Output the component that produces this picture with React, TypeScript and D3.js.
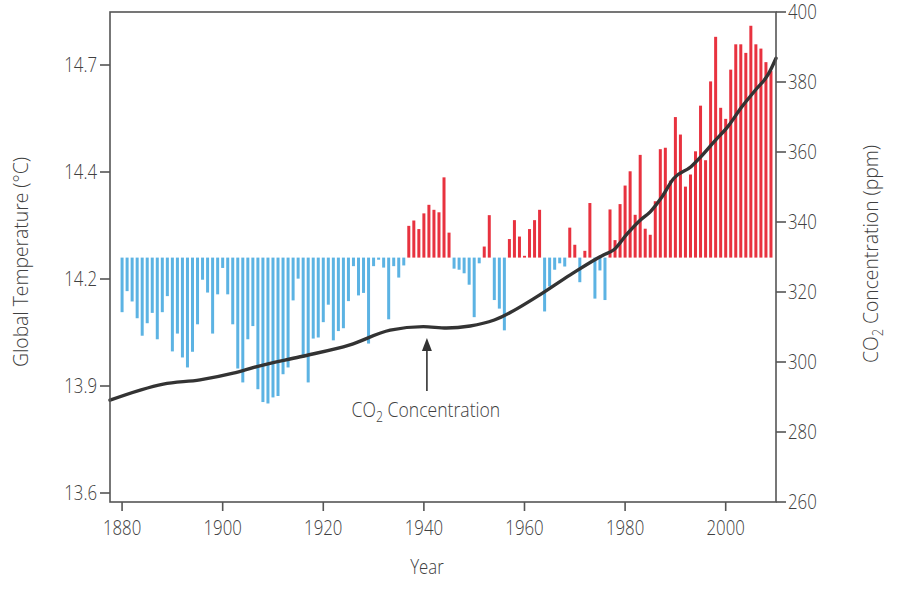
import React from 'react';
import * as d3 from 'd3';

const startYear = 1880;
const tempAnomaly = [
  -0.153, -0.094, -0.123, -0.170, -0.219, -0.184, -0.155, -0.229, -0.153, -0.108,
  -0.263, -0.213, -0.280, -0.308, -0.264, -0.187, -0.062, -0.098, -0.213, -0.103,
  -0.029, -0.103, -0.187, -0.311, -0.350, -0.229, -0.192, -0.369, -0.405, -0.409,
  -0.392, -0.388, -0.327, -0.308, -0.120, -0.059, -0.280, -0.350, -0.227, -0.224,
  -0.181, -0.132, -0.232, -0.206, -0.198, -0.122, -0.024, -0.106, -0.099, -0.241,
  -0.024, -0.006, -0.028, -0.173, -0.024, -0.056, -0.022, 0.089, 0.104, 0.080,
  0.124, 0.148, 0.134, 0.127, 0.225, 0.070, -0.031, -0.034, -0.044, -0.076,
  -0.167, -0.016, 0.031, 0.119, -0.119, -0.143, -0.204, 0.052, 0.105, 0.059,
  0.005, 0.080, 0.105, 0.134, -0.151, -0.081, -0.034, -0.016, -0.025, 0.084,
  0.036, -0.069, 0.019, 0.153, -0.115, -0.036, -0.119, 0.135, 0.049, 0.150,
  0.202, 0.242, 0.120, 0.288, 0.081, 0.064, 0.158, 0.304, 0.308, 0.216,
  0.394, 0.345, 0.199, 0.233, 0.298, 0.426, 0.273, 0.494, 0.619, 0.420,
  0.389, 0.527, 0.598, 0.598, 0.574, 0.650, 0.598, 0.586, 0.548, 0.523,
];
const years = tempAnomaly.map((_, i) => startYear + i);

const co2Years = [
  1877.6, 1888.2, 1895.5, 1902.1, 1906.8, 1915.4, 1925.3, 1933.3, 1939.9, 1944.5,
  1949.2, 1954.0, 1962.4, 1969.1, 1975.7, 1977.7, 1980.4, 1983.0, 1985.0,
  1987.1, 1989.7, 1993.1, 1995.1, 1997.8, 2000.5, 2003.1, 2005.8, 2008.5, 2010.0,
];
const co2Values = [
  289.1, 293.7, 294.9, 296.8, 298.7, 301.5, 304.9, 309.1, 310.1, 309.7,
  310.3, 312.0, 318.6, 324.9, 330.6, 332.0, 336.6, 340.5, 342.9,
  346.7, 352.5, 355.8, 358.7, 363.1, 367.4, 372.7, 377.5, 382.3, 386.8,
];

const tempTickLabels = ['13.6', '13.9', '14.2', '14.4', '14.7'];
const co2Ticks = [260, 280, 300, 320, 340, 360, 380, 400];
const yearTicks = [1880, 1900, 1920, 1940, 1960, 1980, 2000];
const tempBaseline = 14.26;

const W = 900;
const H = 589;
const L = 110;
const R = 776;
const T = 12;
const B = 502;

const FONT = "'Open Sans', sans-serif";
const TEXT = '#404040';
const AXIS = '#555';
const RED = '#e8323f';
const BLUE = '#5cb3e3';
const SX = 0.8;

function NText(props: {
  x: number;
  y: number;
  anchor?: string;
  size?: number;
  sx?: number;
  rotate?: number;
  children: React.ReactNode;
}) {
  const { x, y, anchor = 'middle', size = 20, sx = SX, rotate = 0, children } = props;
  return (
    <text
      transform={`translate(${x},${y}) rotate(${rotate}) scale(${sx},1)`}
      textAnchor={anchor}
      fontSize={size}
      fontWeight={300}
      fill={TEXT}
    >
      {children}
    </text>
  );
}

export default function App() {
  const x = d3.scaleLinear().domain([1877.6, 2010]).range([L, R]);
  const yTemp = d3.scaleLinear().domain([13.6, 14.8]).range([493, 65]);
  const yTempAxis = d3.scalePoint<string>().domain(tempTickLabels).range([493, 65]);
  const yCo2 = d3.scaleLinear().domain([260, 400]).range([B, T]);
  const y0 = yTemp(tempBaseline);
  const barW = 3;

  const line = d3
    .line<number>()
    .x((_, i) => x(co2Years[i]))
    .y((d) => yCo2(d))
    .curve(d3.curveMonotoneX);

  const annYear = 1940.6;
  const ax = x(annYear);
  const tipY = 338;
  const baseY = 391;

  return (
    <svg
      width={W}
      height={H}
      style={{ position: 'absolute', left: 0, top: 0, background: '#fff' }}
      fontFamily={FONT}
    >
      <rect x={0} y={0} width={W} height={H} fill="#fff" />
      {tempAnomaly.map((a, i) => {
        const yv = yTemp(tempBaseline + a);
        return (
          <rect
            key={i}
            x={x(years[i]) - barW / 2}
            y={Math.min(yv, y0)}
            width={barW}
            height={Math.max(0.8, Math.abs(yv - y0))}
            fill={a >= 0 ? RED : BLUE}
          />
        );
      })}
      <path d={line(co2Values) || ''} fill="none" stroke="#333" strokeWidth={3.4} strokeLinecap="round" />

      <rect x={L} y={T} width={R - L} height={B - T} fill="none" stroke={AXIS} strokeWidth={1.6} />

      {tempTickLabels.map((t) => (
        <g key={t}>
          <line x1={L - 10} x2={L} y1={yTempAxis(t)} y2={yTempAxis(t)} stroke={AXIS} strokeWidth={1.6} />
          <NText x={L - 13} y={(yTempAxis(t) as number) + 7} anchor="end" size={21}>
            {t}
          </NText>
        </g>
      ))}
      {co2Ticks.map((t) => (
        <g key={t}>
          <line x1={R} x2={R + 10} y1={yCo2(t)} y2={yCo2(t)} stroke={AXIS} strokeWidth={1.6} />
          <NText x={R + 12} y={yCo2(t) + 7} anchor="start" size={21}>
            {t}
          </NText>
        </g>
      ))}
      {yearTicks.map((t) => (
        <g key={t}>
          <line x1={x(t)} x2={x(t)} y1={B} y2={B + 9} stroke={AXIS} strokeWidth={1.6} />
          <NText x={x(t)} y={B + 33} size={21}>
            {t}
          </NText>
        </g>
      ))}

      <NText x={427} y={574} size={21}>
        Year
      </NText>
      <NText x={28} y={262} rotate={-90} size={21} sx={0.92}>
        Global Temperature (°C)
      </NText>
      <NText x={878} y={254} rotate={-90} size={21} sx={0.92}>
        CO
        <tspan fontSize={14} dy={5}>2</tspan>
        <tspan dy={-5}> Concentration (ppm)</tspan>
      </NText>

      <line x1={ax} x2={ax} y1={baseY} y2={tipY + 10} stroke="#333" strokeWidth={1.6} />
      <path d={`M${ax},${tipY} L${ax - 5},${tipY + 13} L${ax + 5},${tipY + 13} Z`} fill="#333" />
      <NText x={ax - 1} y={417} size={20} sx={0.88}>
        CO
        <tspan fontSize={14} dy={5}>2</tspan>
        <tspan dy={-5}> Concentration</tspan>
      </NText>
    </svg>
  );
}
